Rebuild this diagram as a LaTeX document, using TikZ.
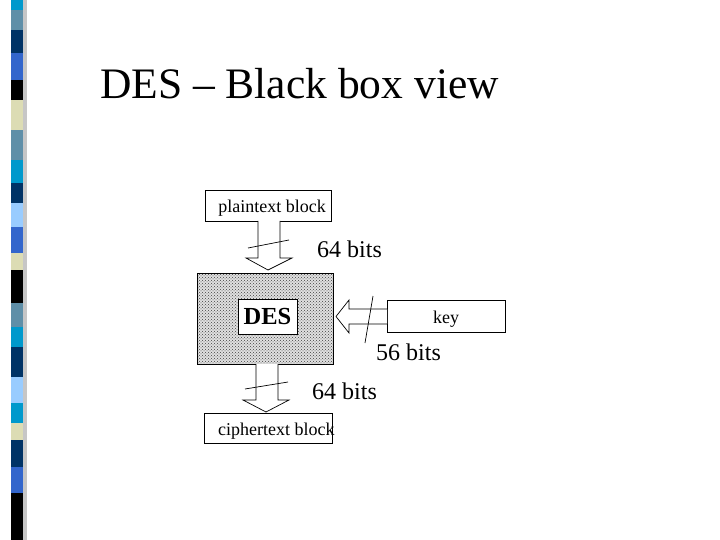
\documentclass[tikz,border=0pt]{standalone}
\usepackage{fontspec}
\setmainfont{Liberation Serif}
\usetikzlibrary{patterns}
\definecolor{cA}{HTML}{0099CC}\definecolor{cB}{HTML}{5F8FA8}\definecolor{cC}{HTML}{003366}
\definecolor{cD}{HTML}{3366CC}\definecolor{cE}{HTML}{000000}\definecolor{cF}{HTML}{DCDCB4}
\definecolor{cG}{HTML}{99CCFF}
\begin{document}
\begin{tikzpicture}[x=1pt,y=-1pt,
  bx/.style={draw,line width=0.8pt,fill=white,inner sep=0pt},
  lbl/.style={font=\fontsize{24}{24}\selectfont,inner sep=0pt},
  thin/.style={line width=0.7pt}]
\useasboundingbox (0,0) rectangle (720,540);
\fill[white] (0,0) rectangle (720,540);
% left strip
\fill[gray!45] (23,0) rectangle (27,540);
\foreach \a/\b/\c in {0/10/cA,10/30/cB,30/53/cC,53/80/cD,80/100/cE,100/130/cF,130/160/cB,160/183/cA,183/203/cC,203/227/cG,227/253/cD,253/270/cF,270/303/cE,303/327/cB,327/347/cA,347/377/cC,377/403/cG,403/423/cA,423/440/cF,440/467/cC,467/493/cD,493/540/cE}
  \fill[\c] (11,\a) rectangle (23,\b);
\node[anchor=base west,inner sep=0pt,font=\fontsize{43.5}{43.5}\selectfont] (title) at (100,99) {DES – Black box view};
% boxes
\node[bx,minimum width=126pt,minimum height=31pt] (pt) at (268,205.5) {};
\node[inner sep=0pt,anchor=base,font=\fontsize{18}{18}\selectfont] (ptt) at (272,213) {plaintext block};
\node[bx,minimum width=128pt,minimum height=30pt] (ct) at (268,428) {};
\node[inner sep=0pt,anchor=base west,font=\fontsize{18}{18}\selectfont] (ctt) at (218,435) {ciphertext block};
\node[bx,minimum width=118pt,minimum height=32pt] (key) at (446,316) {};
\node[inner sep=0pt,anchor=base,font=\fontsize{18}{18}\selectfont] (kt) at (446,323) {key};
\node[draw,line width=0.8pt,minimum width=136pt,minimum height=91pt,fill=black!12,inner sep=0pt] (des) at (265,318.5) {};
\node[draw,line width=0.8pt,minimum width=136pt,minimum height=91pt,pattern=crosshatch dots,pattern color=black!75,inner sep=0pt] at (des) {};
\node[bx,minimum width=59pt,minimum height=35pt,font=\fontsize{24.5}{24.5}\selectfont\bfseries] (dn) at (267.5,316.5) {DES};
% arrows
\draw[thin,fill=white] (258,221) -- (258,258) -- (246,258) -- (268,270) -- (292,258) -- (280,258) -- (280,221);
\draw[thin] (248,248) -- (289,240);
\draw[thin,fill=white] (256,364) -- (256,400) -- (243,400) -- (266,412) -- (289,400) -- (278,400) -- (278,364);
\draw[thin] (245,389) -- (288,382);
\draw[thin,fill=white] (387,309) -- (349,309) -- (349,300) -- (336,316.5) -- (349,333) -- (349,324) -- (387,324);
\draw[thin] (373,296) -- (365,343);
\node[lbl,anchor=base west] (l1) at (317,257) {64 bits};
\node[lbl,anchor=base west] (l2) at (376,360) {56 bits};
\node[lbl,anchor=base west] (l3) at (312,399) {64 bits};
\end{tikzpicture}
\end{document}
